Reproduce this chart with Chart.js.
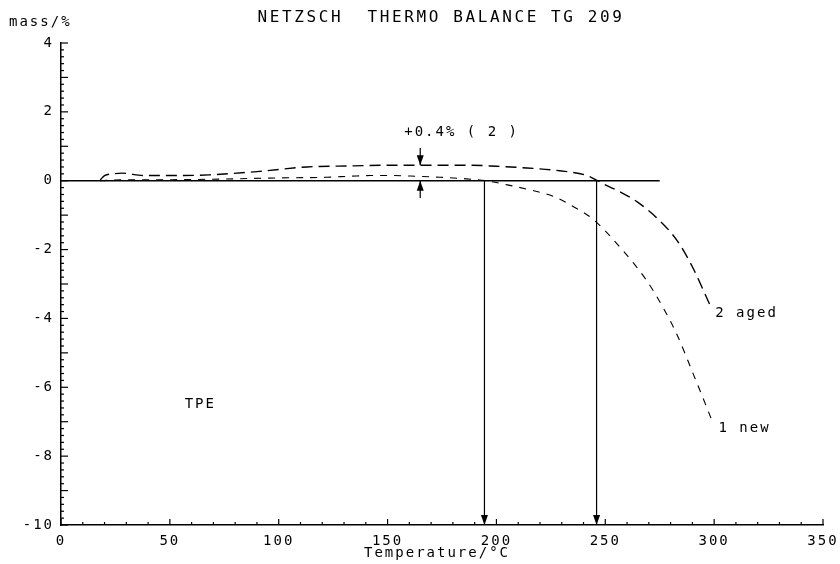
<!DOCTYPE html>
<html>
<head>
<meta charset="utf-8">
<script src="https://cdn.jsdelivr.net/npm/chart.js@4.4.1/dist/chart.umd.min.js"></script>
<style>
    html, body { margin: 0; padding: 0; background: #fff; }
    #wrap { width: 840px; height: 564px; }
</style>
</head>
<body>
<div id="wrap"><canvas id="tg-chart" width="840" height="564"></canvas></div>
<script>
// Curve 2 (aged sample), long dashes
const agedTemps = [18, 20, 24, 28, 38, 49, 68, 91, 113, 134, 150, 165, 188, 200, 214, 229, 241.6, 246.5, 249, 257, 265, 275, 283, 290, 298];
const agedMass  = [0.02, 0.15, 0.2, 0.22, 0.15, 0.15, 0.17, 0.27, 0.4, 0.43, 0.45, 0.45, 0.45, 0.42, 0.37, 0.29, 0.15, 0.0, -0.09, -0.33, -0.63, -1.16, -1.74, -2.5, -3.6];

// Curve 1 (new sample), short dashes
const newTemps = [18, 30, 50, 75, 99, 122, 133, 142, 152, 163, 174, 185, 195, 205, 215, 226, 235, 244.4, 257, 269, 276.5, 283, 290, 296.7, 299.5];
const newMass  = [0.0, 0.03, 0.03, 0.05, 0.08, 0.1, 0.13, 0.15, 0.15, 0.13, 0.1, 0.06, 0.0, -0.12, -0.26, -0.45, -0.74, -1.12, -1.95, -2.9, -3.68, -4.48, -5.55, -6.6, -7.05];

// Solid zero baseline and onset temperatures (vertical arrows)
const baselineTemps = [0, 275];
const onsetTemps = [194.5, 246];

// Mass gain marker: +0.4% at 165 °C
const gainTemp = 165;
const gainTop = 0.45;

// Axis ranges and tick steps
const xRange = [0, 350];
const yRange = [-10, 4];
const xLabelStep = 50;
const yLabelStep = 2;

// Free text on the plot
const noteTexts = ['+0.4% ( 2 )', 'TPE', '2 aged', '1 new'];
const noteTemps = [184, 64, 300.5, 302];
const noteMass  = [1.4, -6.5, -3.85, -7.2];
const noteAlign = ['center', 'center', 'left', 'left'];

const FONT = '"DejaVu Sans Mono", monospace';

function toPoints(xs, ys) {
    return xs.map((x, i) => ({ x: x, y: ys[i] }));
}

function arrowHead(ctx, x, y, dir) {
    // dir: 1 = pointing down, -1 = pointing up
    ctx.beginPath();
    ctx.moveTo(x, y);
    ctx.lineTo(x - 3.5, y - dir * 10);
    ctx.lineTo(x + 3.5, y - dir * 10);
    ctx.closePath();
    ctx.fill();
}

const plotterPlugin = {
    id: 'plotter',
    beforeDraw(chart) {
        const ctx = chart.ctx;
        ctx.save();
        ctx.fillStyle = '#fff';
        ctx.fillRect(0, 0, chart.width, chart.height);
        ctx.restore();
        ctx.letterSpacing = '2px';
    },
    afterDatasetsDraw(chart) {
        const ctx = chart.ctx;
        const xs = chart.scales.x;
        const ys = chart.scales.y;
        const area = chart.chartArea;

        ctx.save();
        ctx.strokeStyle = '#000';
        ctx.fillStyle = '#000';
        ctx.lineWidth = 1.2;

        // inner ticks on the y axis
        for (let i = 0; i <= 70; i++) {
            const v = yRange[0] + i * 0.2;
            const py = ys.getPixelForValue(v);
            const len = (i % 5 === 0) ? 7 : 3;
            ctx.beginPath();
            ctx.moveTo(area.left, py);
            ctx.lineTo(area.left + len, py);
            ctx.stroke();
        }
        // inner ticks on the x axis
        for (let i = 0; i <= 35; i++) {
            const px = xs.getPixelForValue(i * 10);
            const len = (i % 5 === 0) ? 6 : 3;
            ctx.beginPath();
            ctx.moveTo(px, area.bottom);
            ctx.lineTo(px, area.bottom - len);
            ctx.stroke();
        }

        // arrow heads at the bottom of the onset lines
        onsetTemps.forEach(t => {
            arrowHead(ctx, xs.getPixelForValue(t), ys.getPixelForValue(yRange[0]), 1);
        });

        // +0.4% marker arrows
        const gx = xs.getPixelForValue(gainTemp);
        ctx.beginPath();
        ctx.moveTo(gx, ys.getPixelForValue(0.95));
        ctx.lineTo(gx, ys.getPixelForValue(gainTop));
        ctx.moveTo(gx, ys.getPixelForValue(-0.5));
        ctx.lineTo(gx, ys.getPixelForValue(0));
        ctx.stroke();
        arrowHead(ctx, gx, ys.getPixelForValue(gainTop), 1);
        arrowHead(ctx, gx, ys.getPixelForValue(0), -1);
        ctx.restore();
    },
    afterDraw(chart) {
        const ctx = chart.ctx;
        const xs = chart.scales.x;
        const ys = chart.scales.y;

        ctx.save();
        ctx.fillStyle = '#000';
        ctx.textBaseline = 'middle';

        ctx.font = '16px ' + FONT;
        ctx.letterSpacing = '2.6px';
        ctx.textAlign = 'center';
        ctx.fillText('NETZSCH  THERMO BALANCE TG 209', 441, 18);

        ctx.font = '14px ' + FONT;
        ctx.letterSpacing = '2px';
        ctx.textAlign = 'left';
        ctx.fillText('mass/%', 9, 22);

        ctx.textAlign = 'center';
        ctx.fillText('Temperature/°C', 437, 553);

        noteTexts.forEach((txt, i) => {
            ctx.textAlign = noteAlign[i];
            ctx.fillText(txt, xs.getPixelForValue(noteTemps[i]), ys.getPixelForValue(noteMass[i]));
        });
        ctx.restore();
    }
};

const canvas = document.querySelector('#tg-chart');

new Chart(canvas, {
    type: 'line',
    data: {
        datasets: [
            {
                label: '2 aged',
                data: toPoints(agedTemps, agedMass),
                borderColor: '#000',
                borderWidth: 1.4,
                borderDash: [11, 6],
                cubicInterpolationMode: 'monotone',
                pointRadius: 0
            },
            {
                label: '1 new',
                data: toPoints(newTemps, newMass),
                borderColor: '#000',
                borderWidth: 1.1,
                borderDash: [7, 7],
                cubicInterpolationMode: 'monotone',
                pointRadius: 0
            },
            {
                label: 'baseline',
                data: toPoints(baselineTemps, [0, 0]),
                borderColor: '#000',
                borderWidth: 1.6,
                pointRadius: 0
            },
            ...onsetTemps.map(t => ({
                label: 'onset ' + t,
                data: toPoints([t, t], [0, yRange[0]]),
                borderColor: '#000',
                borderWidth: 1.2,
                pointRadius: 0
            }))
        ]
    },
    options: {
        responsive: false,
        animation: false,
        devicePixelRatio: 1,
        layout: {
            padding: { top: 43, right: 17, left: 0, bottom: 0 }
        },
        scales: {
            x: {
                type: 'linear',
                min: xRange[0],
                max: xRange[1],
                grid: { display: false, drawTicks: false },
                border: { display: true, color: '#000', width: 1.5 },
                ticks: {
                    stepSize: xLabelStep,
                    color: '#000',
                    padding: 8,
                    maxRotation: 0,
                    font: { family: FONT, size: 14 }
                },
                afterFit(scale) {
                    scale.height = 39;
                    scale.paddingLeft = 0;
                    scale.paddingRight = 0;
                }
            },
            y: {
                min: yRange[0],
                max: yRange[1],
                grid: { display: false, drawTicks: false },
                border: { display: true, color: '#000', width: 1.5 },
                ticks: {
                    stepSize: yLabelStep,
                    color: '#000',
                    padding: 7,
                    font: { family: FONT, size: 14 }
                },
                afterFit(scale) {
                    scale.width = 61;
                    scale.paddingTop = 0;
                    scale.paddingBottom = 0;
                }
            }
        },
        plugins: {
            legend: { display: false },
            tooltip: { enabled: false }
        }
    },
    plugins: [plotterPlugin]
});
</script>
</body>
</html>
